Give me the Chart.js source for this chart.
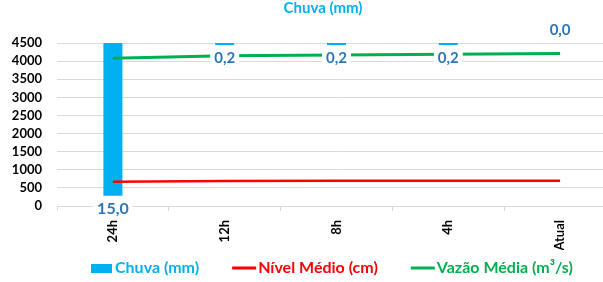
<!DOCTYPE html>
<html>
<head>
<meta charset="utf-8">
<script src="https://cdn.jsdelivr.net/npm/chart.js@4/dist/chart.umd.min.js"></script>
<style>
	html, body { margin: 0; padding: 0; background: #fff; overflow: hidden; }
	#wrap { width: 620px; height: 282px; }
</style>
</head>
<body>
<div id="wrap"><canvas id="chart" width="620" height="282"></canvas></div>
<script>
const categories = ['24h', '12h', '8h', '4h', 'Atual'];
const chuva = [15.0, 0.2, 0.2, 0.2, 0.0];
const nivelMedio = [670, 690, 695, 700, 700];
const vazaoMedia = [4080, 4150, 4170, 4190, 4210];
const yTicks = [0, 500, 1000, 1500, 2000, 2500, 3000, 3500, 4000, 4500];

const CYAN = '#00B0F0';
const RED = '#FF0000';
const GREEN = '#00B050';
const LABEL_BLUE = '#2E75B6';
const GRID = '#D9D9D9';
const FONT = 'Lato, "Open Sans", sans-serif';

// value labels of the rain bars, with a white box behind like excel does
const rainLabels = {
	id: 'rainLabels',
	afterDatasetsDraw(chart) {
		const ctx = chart.ctx;
		const meta = chart.getDatasetMeta(0);
		ctx.save();
		ctx.textAlign = 'center';
		ctx.textBaseline = 'middle';
		meta.data.forEach((bar, i) => {
			const v = chuva[i];
			const text = v.toFixed(1).replace('.', ',');
			ctx.font = 'bold ' + (v >= 10 ? 16 : 15) + 'px ' + FONT;
			const y = v > 0 ? bar.y + 13 : bar.y - 13;
			const w = ctx.measureText(text).width + 8;
			ctx.fillStyle = '#fff';
			ctx.fillRect(bar.x - w / 2, y - 8, w, 16);
			ctx.fillStyle = LABEL_BLUE;
			ctx.fillText(text, bar.x, y);
		});
		ctx.restore();
	}
};

// title + legend drawn by hand so they sit where the cropped original has them
const titleAndLegend = {
	id: 'titleAndLegend',
	afterDraw(chart) {
		const ctx = chart.ctx;
		ctx.save();
		ctx.textBaseline = 'middle';
		ctx.textAlign = 'center';
		ctx.font = 'bold 15px ' + FONT;
		ctx.fillStyle = CYAN;
		ctx.fillText(chart.data.datasets[0].label, 323, 8);

		ctx.textAlign = 'left';
		ctx.font = 'bold 16px ' + FONT;
		let x = 91;
		const y = 268;
		for (const ds of chart.data.datasets) {
			const color = ds.type === 'line' ? ds.borderColor : ds.backgroundColor;
			if (ds.type === 'line') {
				ctx.strokeStyle = color;
				ctx.lineWidth = 3;
				ctx.beginPath();
				ctx.moveTo(x, y);
				ctx.lineTo(x + 24, y);
				ctx.stroke();
				x += 26;
			} else {
				ctx.fillStyle = color;
				ctx.fillRect(x, y - 4, 21, 9);
				x += 24;
			}
			ctx.fillStyle = color;
			ctx.fillText(ds.label, x, y);
			x += ctx.measureText(ds.label).width + 33;
		}
		ctx.restore();
	}
};

function draw() {
	new Chart(document.getElementById('chart'), {
		data: {
			labels: categories,
			datasets: [{
				type: 'bar',
				label: 'Chuva (mm)',
				data: chuva,
				backgroundColor: CYAN,
				yAxisID: 'yRain',
				barPercentage: 0.17,
				categoryPercentage: 1,
				order: 2
			},{
				type: 'line',
				label: 'Nível Médio (cm)',
				data: nivelMedio,
				borderColor: RED,
				backgroundColor: RED,
				borderWidth: 2.5,
				pointRadius: 0,
				tension: 0,
				yAxisID: 'y',
				order: 1
			},{
				type: 'line',
				label: 'Vazão Média (m³/s)',
				data: vazaoMedia,
				borderColor: GREEN,
				backgroundColor: GREEN,
				borderWidth: 3,
				pointRadius: 0,
				tension: 0,
				yAxisID: 'y',
				order: 1
			}]
		},
		options: {
			responsive: false,
			animation: false,
			layout: { padding: { top: 43, right: 4, bottom: 32, left: 0 } },
			plugins: {
				legend: { display: false },
				title: { display: false },
				tooltip: { enabled: false }
			},
			scales: {
				x: {
					offset: true,
					grid: { offset: true, drawOnChartArea: false, color: GRID, tickLength: 5 },
					border: { color: GRID },
					ticks: {
						minRotation: 90,
						maxRotation: 90,
						padding: 9,
						color: '#000',
						font: { family: FONT, weight: 'bold', size: 13 }
					},
					afterFit: s => { s.height = 44; }
				},
				y: {
					min: 0,
					max: 4500,
					afterBuildTicks: s => { s.ticks = yTicks.map(v => ({ value: v })); },
					grid: { color: GRID, drawTicks: false },
					border: { display: false },
					ticks: {
						autoSkip: false,
						padding: 15,
						color: '#000',
						font: { family: FONT, weight: 'bold', size: 13 },
						callback: v => String(v)
					},
					afterFit: s => { s.width = 57; }
				},
				yRain: {
					display: false,
					reverse: true,
					min: 0,
					max: 16
				}
			}
		},
		plugins: [rainLabels, titleAndLegend]
	});
}

document.fonts.load('bold 15px Lato').then(draw, draw);
</script>
</body>
</html>
